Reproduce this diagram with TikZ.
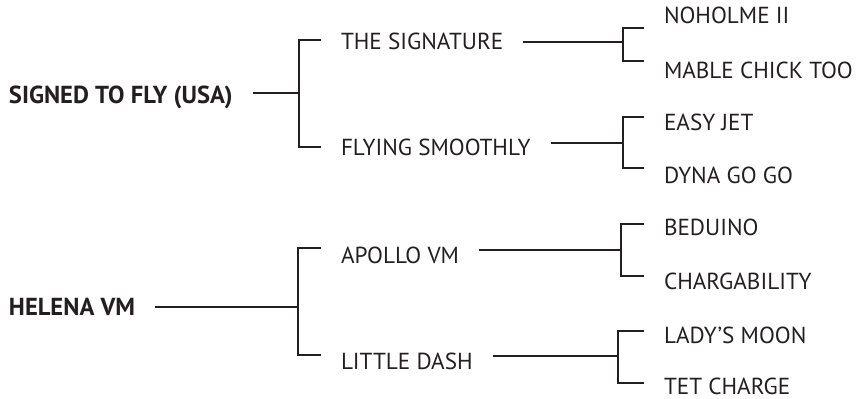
\documentclass[tikz,border=0pt]{standalone}
\usepackage{fontspec}
\setmainfont{PT Sans}
\definecolor{ink}{RGB}{35,31,32}
\begin{document}
\begin{tikzpicture}[
        x=0.5pt, y=-0.5pt,
        every node/.style={anchor=base west, inner sep=0pt, outer xsep=10pt, text=ink, font=\fontsize{11.6}{14}\selectfont},
        sire/.style={font=\fontsize{12.3}{14}\selectfont\bfseries},
        ar/.style={-, draw=ink, line width=1.25pt},
    ]
    \useasboundingbox (0,0) rectangle (857,398);

    % first pedigree
    \node[sire](stf) at (-11,103) {SIGNED TO FLY (USA)};
    \node[](sig) at (321,49) {THE SIGNATURE};
    \node[](fly) at (321,155) {FLYING SMOOTHLY};
    \node[](noh) at (644,23) {NOHOLME II};
    \node[](mab) at (644,78) {MABLE CHICK TOO};
    \node[](eas) at (644,130) {EASY JET};
    \node[](dyn) at (644,183) {DYNA GO GO};

    % second pedigree
    \node[sire](hel) at (-11,315) {HELENA VM};
    \node[](apo) at (321,263) {APOLLO VM};
    \node[](lit) at (321,369) {LITTLE DASH};
    \node[](bed) at (644,235) {BEDUINO};
    \node[](cha) at (644,289) {CHARGABILITY};
    \node[](lad) at (644,343) {LADY'S MOON};
    \node[](tet) at (644,394) {TET CHARGE};

    % brackets
    \coordinate (j1) at (299,93);  \coordinate (j1a) at (0,40);  \coordinate (j1b) at (0,147);
    \coordinate (j2) at (623,42);  \coordinate (j2a) at (0,28);  \coordinate (j2b) at (0,61);
    \coordinate (j3) at (623,143); \coordinate (j3a) at (0,117); \coordinate (j3b) at (0,168);
    \coordinate (j4) at (298,307); \coordinate (j4a) at (0,248); \coordinate (j4b) at (0,355);
    \coordinate (j5) at (621,250); \coordinate (j5a) at (0,224); \coordinate (j5b) at (0,276);
    \coordinate (j6) at (618,356); \coordinate (j6a) at (0,331); \coordinate (j6b) at (0,383);

    \draw[ar] (stf.east |- j1) -- (j1);
    \draw[ar] (sig.west |- j1a) -| (j1) |- (fly.west |- j1b);
    \draw[ar] (sig.east |- j2) -- (j2);
    \draw[ar] (noh.west |- j2a) -| (j2) |- (mab.west |- j2b);
    \draw[ar] (fly.east |- j3) -- (j3);
    \draw[ar] (eas.west |- j3a) -| (j3) |- (dyn.west |- j3b);

    \draw[ar] (hel.east |- j4) -- (j4);
    \draw[ar] (apo.west |- j4a) -| (j4) |- (lit.west |- j4b);
    \draw[ar] (apo.east |- j5) -- (j5);
    \draw[ar] (bed.west |- j5a) -| (j5) |- (cha.west |- j5b);
    \draw[ar] (lit.east |- j6) -- (j6);
    \draw[ar] (lad.west |- j6a) -| (j6) |- (tet.west |- j6b);
\end{tikzpicture}
\end{document}
